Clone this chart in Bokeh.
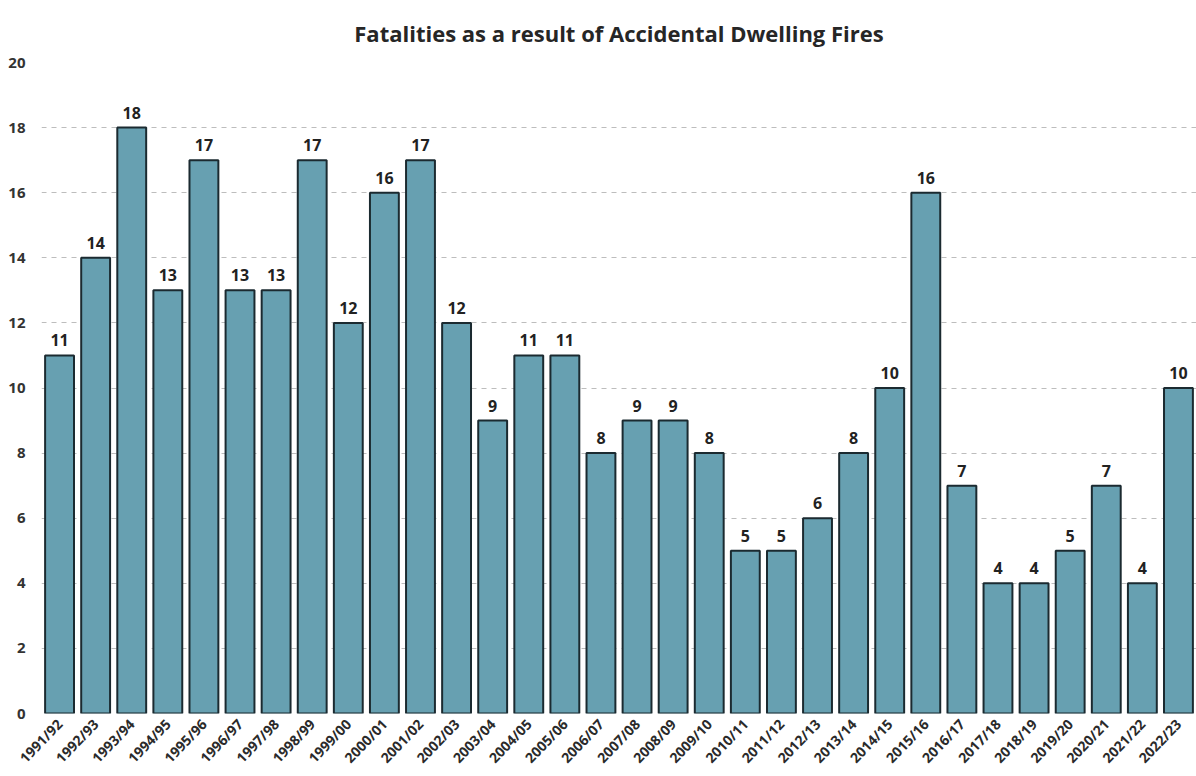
from bokeh.plotting import figure
from bokeh.models import ColumnDataSource, Range1d, FixedTicker
from bokeh.embed import file_html
from bokeh.resources import INLINE
from bokeh.core.properties import value

years = ["1991/92", "1992/93", "1993/94", "1994/95", "1995/96", "1996/97", "1997/98",
         "1998/99", "1999/00", "2000/01", "2001/02", "2002/03", "2003/04", "2004/05",
         "2005/06", "2006/07", "2007/08", "2008/09", "2009/10", "2010/11", "2011/12",
         "2012/13", "2013/14", "2014/15", "2015/16", "2016/17", "2017/18", "2018/19",
         "2019/20", "2020/21", "2021/22", "2022/23"]
fatalities = [11, 14, 18, 13, 17, 13, 13, 17, 12, 16, 17, 12, 9, 11, 11, 8, 9, 9, 8,
              5, 5, 6, 8, 10, 16, 7, 4, 4, 5, 7, 4, 10]
y_ticks = [0, 2, 4, 6, 8, 10, 12, 14, 16, 18, 20]

src = ColumnDataSource(dict(x=years, y=fatalities, lbl=[str(v) for v in fatalities]))

p = figure(x_range=years, y_range=Range1d(0, 20), width=1196, height=776,
           output_backend="svg", toolbar_location=None,
           min_border_left=41, min_border_right=0, min_border_top=60, min_border_bottom=63)

p.title.text = "Fatalities as a result of Accidental Dwelling Fires"
p.title.align = "center"
p.title.text_font = "Open Sans"
p.title.text_font_size = "22px"
p.title.text_font_style = "bold"
p.title.text_color = "#262626"
p.title.text_line_height = 0.7
p.title.offset = 0
p.title.standoff = 30

p.vbar(x="x", top="y", width=0.8, source=src, fill_color="#67a0b1",
       line_color="#1b2a30", line_width=2)
p.text(x="x", y="y", text="lbl", source=src, text_align="center",
       text_baseline="bottom", y_offset=-9, text_font=value("Open Sans"),
       text_font_size="16px", text_font_style="bold", text_color="#222222")

p.outline_line_color = None
p.xgrid.grid_line_color = None
p.ygrid.grid_line_color = "#bdbdbd"
p.ygrid.grid_line_dash = "5 5"
p.ygrid.grid_line_width = 1

p.yaxis.ticker = FixedTicker(ticks=y_ticks)
p.yaxis.axis_line_color = None
p.yaxis.major_tick_line_color = None
p.yaxis.minor_tick_line_color = None
p.yaxis.major_label_text_font = "Open Sans"
p.yaxis.major_label_text_font_style = "bold"
p.yaxis.major_label_text_font_size = "15px"
p.yaxis.major_label_text_color = "#333333"
p.yaxis.major_label_standoff = 10

p.xaxis.axis_line_color = None
p.xaxis.major_tick_line_color = None
p.xaxis.major_label_orientation = 0.8
p.xaxis.major_label_text_font = "Open Sans"
p.xaxis.major_label_text_font_size = "14px"
p.xaxis.major_label_text_font_style = "bold"
p.xaxis.major_label_text_color = "#2a2a2a"
p.xaxis.major_label_standoff = 2
p.x_range.range_padding = 0.0

open("out.html", "w").write(file_html(p, INLINE))
